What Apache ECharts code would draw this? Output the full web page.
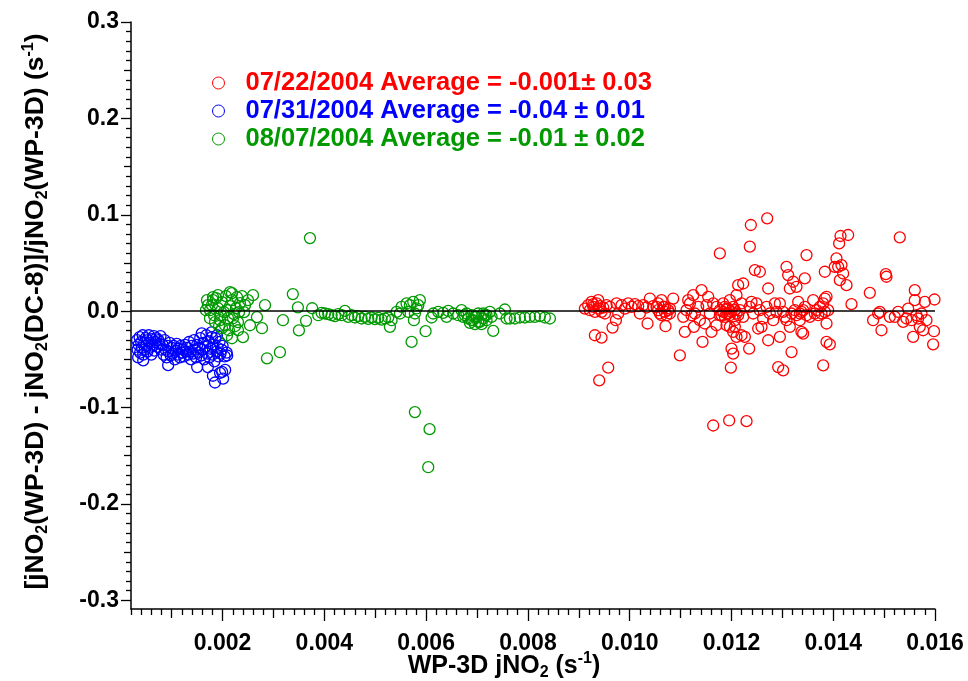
<!DOCTYPE html>
<html>
<head>
<meta charset="utf-8">
<script src="https://cdn.jsdelivr.net/npm/echarts@6/dist/echarts.min.js"></script>
<style>
  html, body { margin: 0; padding: 0; background: #fff; }
  #chart { width: 968px; height: 681px; }
</style>
</head>
<body>
<div id="chart"></div>
<script>
// axis ranges and tick labels
const X_MIN = 0.0002, X_MAX = 0.016;
const Y_MIN = -0.309, Y_MAX = 0.3;
const xMajorTicks = [0.002, 0.004, 0.006, 0.008, 0.010, 0.012, 0.014, 0.016];
const yMajorTicks = [-0.3, -0.2, -0.1, 0.0, 0.1, 0.2, 0.3];

const seriesNames = [
  '07/22/2004 Average = -0.001\u00b1 0.03',
  '07/31/2004 Average = -0.04 \u00b1 0.01',
  '08/07/2004 Average = -0.01 \u00b1 0.02'
];
const seriesColors = ['#ff0000', '#0000ff', '#009900'];

// [jNO2 (x 1e-3 s-1), relative difference]
const red0722 = [
  [9.185, 0.0062], [9.251, 0.0097], [9.283, 0.0045], [9.349, 0.008], [9.414, 0.0052], [9.48, 0.0038],
  [9.218, 0.001], [9.316, -0.0007], [9.447, -0.0007], [9.545, 0.0062], [9.611, 0.0045], [9.382, 0.0114],
  [9.12, 0.0027], [9.513, -0.0024], [9.283, 0.0073], [9.401, 0.0027],
  [9.316, -0.025], [9.447, -0.0274], [9.578, -0.0586], [9.401, -0.0718], [9.663, -0.017], [9.729, -0.0094], [9.775, -0.0024],
  [9.742, 0.008], [9.84, 0.0062], [9.906, 0.0027], [9.971, 0.008], [10.037, 0.0045], [10.102, 0.0073],
  [10.167, 0.0052], [10.2, -0.0024], [10.266, 0.0062], [10.331, 0.0038], [10.397, 0.0131], [10.462, 0.0052],
  [10.351, -0.0128], [10.626, 0.0114], [10.56, 0.001], [10.659, 0.0045], [10.691, -0.0007], [10.724, -0.0042],
  [10.79, 0.0027], [10.855, 0.0131], [10.704, -0.0156], [10.593, -0.0024], [10.757, 0.001],
  [10.528, 0.0045], [10.626, -0.0042], [10.691, 0.0045], [10.79, -0.0024], [10.56, 0.008],
  [10.986, -0.0458], [11.052, -0.0059], [11.117, 0.001], [11.183, 0.008], [11.248, 0.0166], [11.281, -0.0024],
  [11.346, 0.0045], [11.379, -0.0094], [11.412, 0.0218], [11.431, -0.0319], [11.477, -0.0128], [11.51, 0.0062],
  [11.543, 0.0149], [11.575, -0.0024], [11.608, -0.0215], [11.641, 0.008], [11.706, -0.0146], [11.261, -0.0163],
  [11.084, -0.0215], [11.215, -0.0042], [11.15, 0.0114],
  [11.772, 0.0599], [11.706, 0.0045], [11.772, 0.001], [11.805, -0.0042], [11.837, 0.008], [11.87, -0.0059],
  [11.903, 0.0027], [11.936, -0.0024], [11.968, 0.0114], [12.001, -0.0007], [12.034, 0.0045], [12.067, -0.0094],
  [12.099, 0.0166], [12.132, -0.0042], [12.165, 0.001], [12.198, 0.008], [12.23, -0.0059], [11.968, -0.0163],
  [12.034, -0.0215], [12.099, -0.0267], [12.001, -0.0389], [12.034, -0.0441], [12.132, 0.027], [12.23, 0.0287],
  [11.903, -0.0146], [12.198, -0.025], [12.263, -0.0267], [12.348, -0.0389], [11.988, -0.0586], [12.067, -0.0163],
  [11.837, -0.0007], [11.903, -0.0024], [11.936, 0.0027], [11.968, -0.0042], [12.067, 0.001], [12.099, -0.0024],
  [11.772, -0.0042], [11.87, 0.0045],
  [12.361, 0.0669], [12.381, 0.0894], [12.702, 0.0963], [12.46, 0.0426], [12.558, 0.0409], [12.722, 0.0235],
  [12.361, 0.0045], [12.427, -0.0024], [12.492, 0.008], [12.558, 0.001], [12.591, -0.0163], [12.623, -0.0076],
  [12.689, 0.0045], [12.722, -0.0302], [12.754, -0.0024], [12.82, -0.0094], [12.853, 0.008], [12.525, -0.018],
  [12.394, 0.0097], [12.885, -0.0007],
  [12.918, -0.058], [13.016, -0.0614], [12.951, -0.0267], [13.016, -0.0007], [13.082, 0.046], [13.114, 0.0374],
  [13.082, -0.0094], [13.147, 0.0235], [13.18, -0.0424], [13.213, 0.0305], [13.278, 0.0253], [13.311, 0.0097],
  [13.344, -0.0024], [13.376, -0.0215], [13.409, -0.0233], [13.442, 0.034], [13.475, 0.0582], [13.409, 0.001],
  [13.475, -0.0042], [13.54, -0.0059], [13.147, -0.0163], [12.951, 0.008], [13.245, 0.001], [13.049, -0.0059],
  [13.344, -0.0094], [13.278, -0.0042], [13.376, -0.0007], [13.442, 0.0045], [13.18, -0.0024],
  [13.606, 0.0114], [13.671, 0.001], [13.737, 0.0045], [13.769, -0.0024], [13.802, 0.008], [13.835, 0.0131],
  [13.868, 0.0149], [13.802, -0.0562], [13.868, -0.0319], [13.933, -0.0344], [13.868, -0.0128], [13.835, 0.0409],
  [13.9, 0.001], [13.704, -0.0042], [13.638, -0.0024], [13.835, -0.0007],
  [14.064, 0.0547], [14.097, 0.046], [14.13, 0.0322], [14.162, 0.0478], [14.195, 0.0391], [14.261, 0.027],
  [14.116, 0.0703], [14.293, 0.079], [14.143, 0.078], [14.359, 0.0073], [14.031, 0.046],
  [14.719, 0.019], [14.784, -0.0094], [14.883, -0.0024], [14.948, -0.0198], [15.033, 0.0384], [15.046, 0.0357],
  [14.915, -0.0007], [15.112, -0.0059], [15.21, -0.0059], [15.275, -0.0007], [15.308, 0.0766], [15.374, -0.0111],
  [15.472, 0.0027], [15.537, -0.0094], [15.57, -0.0267], [15.603, 0.0218], [15.603, 0.0114], [15.668, -0.0076],
  [15.701, -0.0163], [15.734, -0.0024], [15.767, -0.0198], [15.8, 0.0097], [15.832, -0.0094], [15.963, -0.0344],
  [15.99, 0.0121], [15.98, -0.0208], [15.636, -0.0042], [15.439, -0.0076],
  [11.641, -0.1186], [11.955, -0.1134], [12.296, -0.1141]
];

const blue0731 = [
  [0.32, -0.030], [0.33, -0.040], [0.34, -0.048], [0.35, -0.035], [0.37, -0.027], [0.38, -0.043],
  [0.40, -0.032], [0.41, -0.038], [0.43, -0.025], [0.44, -0.045], [0.46, -0.033], [0.47, -0.040],
  [0.49, -0.028], [0.50, -0.036], [0.52, -0.042], [0.53, -0.030], [0.55, -0.025], [0.56, -0.038],
  [0.58, -0.033], [0.60, -0.045], [0.61, -0.029], [0.63, -0.036], [0.65, -0.026], [0.66, -0.041],
  [0.68, -0.032], [0.70, -0.028], [0.72, -0.037], [0.74, -0.030], [0.76, -0.034], [0.78, -0.026],
  [0.80, -0.040], [0.44, -0.051],
  [0.82, -0.035], [0.84, -0.045], [0.86, -0.030], [0.88, -0.040], [0.90, -0.048], [0.92, -0.036],
  [0.94, -0.042], [0.96, -0.033], [0.98, -0.046], [1.00, -0.038], [1.02, -0.044], [1.04, -0.036],
  [1.06, -0.050], [1.08, -0.041], [1.10, -0.034], [1.12, -0.045], [1.14, -0.039], [1.16, -0.048],
  [1.18, -0.036], [1.20, -0.043], [1.22, -0.040], [1.24, -0.047], [1.26, -0.035], [1.28, -0.042],
  [0.93, -0.056],
  [1.30, -0.038], [1.32, -0.045], [1.34, -0.032], [1.36, -0.042], [1.38, -0.050], [1.40, -0.036],
  [1.42, -0.044], [1.44, -0.030], [1.46, -0.040], [1.48, -0.048], [1.50, -0.035], [1.52, -0.043],
  [1.54, -0.038], [1.56, -0.028], [1.58, -0.046], [1.60, -0.040], [1.62, -0.033], [1.64, -0.050],
  [1.66, -0.037], [1.68, -0.025], [1.70, -0.044], [1.72, -0.031], [1.74, -0.048], [1.76, -0.039],
  [1.78, -0.022], [1.80, -0.045], [1.82, -0.035], [1.84, -0.052], [1.86, -0.028], [1.88, -0.042],
  [1.90, -0.038], [1.92, -0.047], [1.94, -0.032], [1.96, -0.044], [1.98, -0.040], [2.00, -0.036],
  [2.04, -0.047], [2.08, -0.043],
  [1.50, -0.058], [1.71, -0.058], [1.81, -0.067], [1.99, -0.063], [1.85, -0.074], [2.01, -0.070],
  [2.09, -0.046], [1.79, -0.027], [1.59, -0.023], [1.89, -0.025], [2.05, -0.061], [1.95, -0.064]
];

const green0807 = [
  [1.693, 0.0114], [1.752, 0.001], [1.791, 0.0062], [1.831, -0.0042], [1.87, 0.0135], [1.909, 0.0031],
  [1.949, -0.0094], [1.988, 0.0094], [2.027, -0.001], [2.066, 0.0156], [2.106, -0.0073], [2.145, 0.0052],
  [2.184, 0.0114], [2.224, -0.0031], [2.263, 0.0031], [2.302, -0.0114], [2.341, 0.0083], [2.381, 0.0156],
  [2.42, -0.001], [1.752, -0.0073], [1.85, -0.0114], [2.047, -0.0146], [2.243, -0.0156], [1.909, 0.0166],
  [2.145, 0.0198], [1.713, 0.0062], [1.811, 0.0114], [2.44, 0.0062], [2.499, 0.0114], [1.968, -0.0042],
  [2.086, 0.001], [2.204, -0.0073], [2.322, -0.001], [1.673, 0.001], [1.929, -0.0156], [2.125, -0.0198],
  [1.811, 0.0146], [2.184, 0.0187], [2.283, 0.0146], [1.988, -0.0177], [2.086, -0.025], [2.184, -0.0281],
  [2.302, -0.0198], [2.4, -0.027], [2.538, -0.0146], [2.597, 0.0166], [2.675, -0.0062], [2.774, -0.0177],
  [2.833, 0.0062], [2.872, -0.0489], [3.127, -0.0426], [3.186, -0.0094],
  [3.717, 0.0758], [3.38, 0.0177], [3.48, 0.004], [3.76, 0.003], [3.64, -0.010], [3.50, -0.020],
  [3.88, -0.0042], [3.946, -0.0017], [4.01, -0.0024], [4.077, -0.0031], [4.142, -0.0042], [4.208, -0.0052],
  [4.273, -0.0031], [4.339, -0.0042], [4.404, 0.0003], [4.47, -0.0059], [4.535, -0.0042], [4.60, -0.0066],
  [4.666, -0.0052], [4.731, -0.0076], [4.797, -0.0059], [4.862, -0.008], [4.928, -0.0066], [4.994, -0.0083],
  [5.059, -0.0069], [5.125, -0.0087], [5.19, -0.0076], [5.255, -0.0066], [5.321, -0.0094], [5.288, -0.0163],
  [5.419, -0.0007], [5.517, 0.0045], [5.615, 0.008], [5.681, 0.0062], [5.746, 0.0097], [5.812, 0.0028],
  [5.877, 0.0114], [5.845, 0.0062], [5.779, -0.0024], [5.648, -0.0007], [5.485, -0.0024], [5.76, -0.0094],
  [5.714, -0.0319], [5.989, -0.0208], [6.107, -0.0066], [5.779, -0.1047], [6.067, -0.1224], [6.041, -0.1619],
  [6.139, -0.0024], [6.238, -0.0007], [6.336, -0.0017], [6.434, 0.0003], [6.532, -0.0024], [6.631, -0.0042],
  [6.696, 0.001], [6.729, -0.0059], [6.794, -0.0024], [6.827, -0.0076], [6.893, -0.0042], [6.925, -0.0094],
  [6.991, -0.0059], [7.024, -0.0024], [7.056, -0.0111], [7.122, -0.0076], [7.155, -0.0042], [7.187, -0.0094],
  [7.253, -0.0007], [7.286, -0.0059], [7.318, -0.0205], [7.449, -0.0024], [7.547, 0.0017], [7.58, -0.0076],
  [7.646, -0.0076], [7.744, -0.0076], [7.842, -0.0066], [7.94, -0.0066], [8.039, -0.0059], [8.137, -0.0059],
  [8.235, -0.0052], [8.333, -0.0066], [8.432, -0.0076], [6.401, -0.0059], [6.86, -0.0121], [6.958, -0.0135],
  [7.089, -0.0135], [6.761, -0.0042], [6.893, -0.0094], [7.024, -0.0111], [7.122, -0.0024], [6.958, -0.0059],
  [7.187, -0.0042]
];

const FONT = '"Liberation Sans", Arial, sans-serif';

// tick positions for medium / minor marks
const xMidTicks = [], xMinorTicks = [];
for (let k = 1; k <= 80; k++) {
  const v = +(k * 0.0002).toFixed(5);
  if (v < X_MIN || v > X_MAX) continue;
  if (k % 10 === 0) continue;
  if (k % 5 === 0) xMidTicks.push(v); else xMinorTicks.push(v);
}
const yMidTicks = [], yMinorTicks = [];
for (let k = -30; k <= 30; k++) {
  if (k % 10 === 0) continue;
  const v = +(k * 0.01).toFixed(3);
  if (k % 5 === 0) yMidTicks.push(v); else yMinorTicks.push(v);
}

const toPoints = arr => arr.map(p => [p[0] / 1000, p[1]]);

const tickStyle = { color: '#000', width: 1.3 };

function tickXAxis(values, len) {
  return {
    type: 'value', min: X_MIN, max: X_MAX, position: 'bottom',
    axisLine: { show: false, onZero: false },
    axisTick: { show: true, customValues: values, length: len, lineStyle: tickStyle },
    axisLabel: { show: false },
    splitLine: { show: false }
  };
}
function tickYAxis(values, len) {
  return {
    type: 'value', min: Y_MIN, max: Y_MAX, position: 'left',
    axisLine: { show: false, onZero: false },
    axisTick: { show: true, customValues: values, length: len, lineStyle: tickStyle },
    axisLabel: { show: false },
    splitLine: { show: false }
  };
}

function titleRich(size) {
  return {
    b: { fontFamily: FONT, fontWeight: 'bold', fontSize: size, lineHeight: 30, color: '#000' },
    sub: { fontFamily: FONT, fontWeight: 'bold', fontSize: 16, lineHeight: 14, verticalAlign: 'bottom', color: '#000' },
    sup: { fontFamily: FONT, fontWeight: 'bold', fontSize: 16, lineHeight: 14, verticalAlign: 'top', color: '#000' }
  };
}

const series = [red0722, blue0731, green0807].map((d, i) => ({
  name: seriesNames[i],
  type: 'scatter',
  symbol: 'circle',
  symbolSize: 11,
  data: toPoints(d),
  itemStyle: { color: 'rgba(0,0,0,0)', borderColor: seriesColors[i], borderWidth: 1.3, opacity: 1 },
  emphasis: { disabled: true }
}));
series[0].markLine = {
  silent: true,
  symbol: 'none',
  label: { show: false },
  lineStyle: { color: '#000', width: 1.5, type: 'solid' },
  data: [{ yAxis: 0 }]
};

const option = {
  animation: false,
  backgroundColor: '#fff',
  grid: { left: 131, right: 33, top: 22, bottom: 72, containLabel: false, outerBoundsMode: 'none' },
  legend: {
    orient: 'vertical',
    left: 207,
    top: 64,
    itemWidth: 44,
    itemHeight: 12,
    itemGap: 0,
    icon: 'circle',
    selectedMode: false,
    data: seriesNames.map((n, i) => ({
      name: n,
      itemStyle: { color: 'rgba(0,0,0,0)', borderColor: seriesColors[i], borderWidth: 1 },
      textStyle: { color: seriesColors[i] }
    })),
    textStyle: { fontFamily: FONT, fontWeight: 'bold', fontSize: 25.5, lineHeight: 28 }
  },
  xAxis: [
    {
      type: 'value', min: X_MIN, max: X_MAX, position: 'bottom',
      axisLine: { show: true, onZero: false, lineStyle: { color: '#000', width: 1.5 } },
      axisTick: { show: true, customValues: xMajorTicks, length: 12, lineStyle: tickStyle },
      axisLabel: {
        customValues: xMajorTicks, margin: 23,
        formatter: v => v.toFixed(3),
        fontFamily: FONT, fontWeight: 'bold', fontSize: 23, color: '#000'
      },
      splitLine: { show: false },
      name: '{b|WP-3D jNO}{sub|2}{b| (s}{sup|-1}{b|)}',
      nameLocation: 'middle',
      nameGap: 42,
      nameMoveOverlap: false,
      nameTextStyle: { rich: titleRich(25), padding: [0, 58, 0, 0] }
    },
    tickXAxis(xMidTicks, 9),
    tickXAxis(xMinorTicks, 6)
  ],
  yAxis: [
    {
      type: 'value', min: Y_MIN, max: Y_MAX, position: 'left',
      axisLine: { show: true, onZero: false, lineStyle: { color: '#000', width: 1.5 } },
      axisTick: { show: true, customValues: yMajorTicks, length: 10, lineStyle: tickStyle },
      axisLabel: {
        customValues: yMajorTicks, margin: 12,
        formatter: v => v.toFixed(1),
        fontFamily: FONT, fontWeight: 'bold', fontSize: 23, color: '#000'
      },
      splitLine: { show: false },
      name: '{b|[jNO}{sub|2}{b|(WP-3D) - jNO}{sub|2}{b|(DC-8)]/jNO}{sub|2}{b|(WP-3D) (s}{sup|-1}{b|)}',
      nameLocation: 'middle',
      nameRotate: 90,
      nameGap: 80,
      nameMoveOverlap: false,
      nameTextStyle: { rich: titleRich(26.5), padding: [0, 0, 0, 8] }
    },
    tickYAxis(yMidTicks, 7),
    tickYAxis(yMinorTicks, 5)
  ],
  series: series
};

const chart = echarts.init(document.getElementById('chart'), null, { renderer: 'canvas' });
chart.setOption(option);
</script>
</body>
</html>
